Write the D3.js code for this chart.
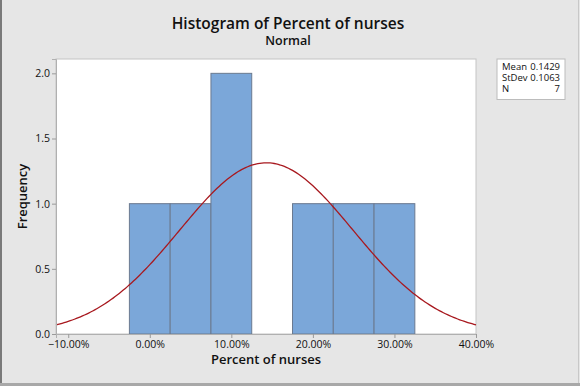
<!DOCTYPE html>
<html>
<head>
<meta charset="utf-8">
<script src="https://cdn.jsdelivr.net/npm/d3@7"></script>
<style>
  body { margin: 0; background: #e6e6e6; }
  text { font-family: "Open Sans", "Noto Sans", sans-serif; fill: #111; }
</style>
</head>
<body>
<div id="chart"></div>
<script>
// histogram bins (centres of 5% bins) and counts
var binCenters = [0.00, 0.05, 0.10, 0.15, 0.20, 0.25, 0.30];
var binCounts  = [1, 1, 2, 0, 1, 1, 1];
var binWidth = 0.05;

// fitted normal
var fitMean = 0.1429;
var fitSd = 0.1063;
var fitN = 7;

var xTicks = [-0.10, 0.00, 0.10, 0.20, 0.30, 0.40];
var yTicks = [0.0, 0.5, 1.0, 1.5, 2.0];
var legendRows = [["Mean", "0.1429"], ["StDev", "0.1063"], ["N", "7"]];

var W = 580, H = 386;
var margin = {top: 59, right: 104, bottom: 52, left: 56};
var width = W - margin.left - margin.right,
    height = H - margin.top - margin.bottom;

var svg = d3.select("#chart").append("svg")
    .attr("width", W)
    .attr("height", H);

// window frame
svg.append("rect").attr("x", 0).attr("y", 0).attr("width", W).attr("height", H).attr("fill", "#e6e6e6");
svg.append("line").attr("x1", 1).attr("x2", 1).attr("y1", 0).attr("y2", H)
    .attr("stroke", "#7a7a7a").attr("stroke-width", 2);
svg.append("line").attr("x1", 0).attr("x2", W).attr("y1", 384.5).attr("y2", 384.5)
    .attr("stroke", "#a8a8a8").attr("stroke-width", 3);
svg.append("line").attr("x1", 578.5).attr("x2", 578.5).attr("y1", 0).attr("y2", 383)
    .attr("stroke", "#c8c8c8").attr("stroke-width", 1);

var x = d3.scaleLinear().domain([-0.115, 0.40]).range([0, width]);
var y = d3.scaleLinear().domain([0, 2.11]).range([height, 0]);

var g = svg.append("g")
    .attr("transform", "translate(" + margin.left + "," + margin.top + ")");

g.append("rect")
    .attr("width", width)
    .attr("height", height)
    .attr("fill", "#fff")
    .attr("stroke", "#c4c4c4");

// bars
g.selectAll(".bar")
    .data(binCenters.map(function (c, i) { return {c: c, n: binCounts[i]}; })
        .filter(function (d) { return d.n > 0; }))
    .enter().append("rect")
    .attr("class", "bar")
    .attr("x", function (d) { return x(d.c - binWidth / 2); })
    .attr("width", function (d) { return x(d.c + binWidth / 2) - x(d.c - binWidth / 2); })
    .attr("y", function (d) { return y(d.n); })
    .attr("height", function (d) { return y(0) - y(d.n); })
    .attr("fill", "#7ba7d9")
    .attr("stroke", "#6b7a90")
    .attr("stroke-width", 1);

// normal curve scaled to counts
var scaleK = fitN * binWidth;
var curvePts = d3.range(x.domain()[0], x.domain()[1] + 0.0001, 0.0025).map(function (v) {
    var z = (v - fitMean) / fitSd;
    return [v, scaleK * Math.exp(-0.5 * z * z) / (fitSd * Math.sqrt(2 * Math.PI))];
});
g.append("path")
    .datum(curvePts)
    .attr("fill", "none")
    .attr("stroke", "#a8191f")
    .attr("stroke-width", 1.3)
    .attr("d", d3.line()
        .x(function (d) { return x(d[0]); })
        .y(function (d) { return y(d[1]); }));

// axes
var yAxis = g.append("g")
    .call(d3.axisLeft(y).tickValues(yTicks).tickFormat(d3.format(".1f")).tickSize(4).tickPadding(2));
var xAxis = g.append("g")
    .attr("transform", "translate(0," + height + ")")
    .call(d3.axisBottom(x).tickValues(xTicks).tickFormat(d3.format(".2%")).tickSize(4).tickPadding(3));
[xAxis, yAxis].forEach(function (a) {
    a.select(".domain").attr("stroke", "#b0b0b0");
    a.selectAll(".tick line").attr("stroke", "#9a9a9a");
    a.selectAll(".tick text")
        .style("font-family", "'Open Sans', sans-serif")
        .style("font-size", "10.5px")
        .attr("fill", "#111");
});

// titles
svg.append("text")
    .attr("x", 288).attr("y", 29)
    .attr("text-anchor", "middle")
    .style("font-size", "15.5px").style("font-weight", 600)
    .text("Histogram of Percent of nurses");
svg.append("text")
    .attr("x", 288).attr("y", 45)
    .attr("text-anchor", "middle")
    .style("font-size", "12.5px").style("font-weight", 600)
    .text("Normal");

svg.append("text")
    .attr("x", margin.left + width / 2).attr("y", 364)
    .attr("text-anchor", "middle")
    .style("font-size", "13px").style("font-weight", 600)
    .text("Percent of nurses");
svg.append("text")
    .attr("transform", "translate(27," + (margin.top + height / 2) + ") rotate(-90)")
    .attr("text-anchor", "middle")
    .style("font-size", "13px").style("font-weight", 600)
    .text("Frequency");

// stats box
var lg = svg.append("g").attr("transform", "translate(497,59)");
lg.append("rect").attr("width", 68).attr("height", 40.5)
    .attr("fill", "#fff").attr("stroke", "#bcbcbc");
legendRows.forEach(function (r, i) {
    lg.append("text").attr("x", 5).attr("y", 10.5 + i * 11.4)
        .style("font-size", "9.5px").text(r[0]);
    lg.append("text").attr("x", 63).attr("y", 10.5 + i * 11.4)
        .attr("text-anchor", "end").style("font-size", "9.5px").text(r[1]);
});
</script>
</body>
</html>
